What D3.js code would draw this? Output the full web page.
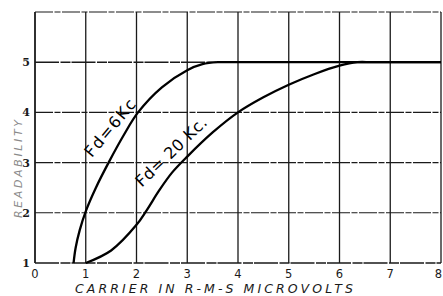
<!DOCTYPE html>
<html>
<head>
<meta charset="utf-8">
<script src="https://cdn.jsdelivr.net/npm/d3@7"></script>
<style>
  body { margin: 0; background: #fff; }
  svg { display: block; }
</style>
</head>
<body>
<div id="chart"></div>
<script>
// values
const xTicks = [0, 1, 2, 3, 4, 5, 6, 7, 8];
const yTicks = [1, 2, 3, 4, 5];

// Fd = 6 Kc curve
const curve6X = [0.76, 0.8, 0.88, 1.0, 1.2, 1.45, 1.75, 2.03, 2.5, 3.0, 3.3, 3.6, 3.9, 8];
const curve6Y = [1.0, 1.3, 1.65, 2.03, 2.5, 3.0, 3.55, 4.0, 4.5, 4.84, 4.96, 5.0, 5.0, 5.0];

// Fd = 20 Kc curve
const curve20X = [1.0, 1.5, 2.0, 2.2, 2.45, 2.7, 3.0, 3.5, 4.0, 4.5, 5.0, 5.5, 6.0, 6.35, 6.65, 8];
const curve20Y = [1.0, 1.25, 1.76, 2.05, 2.45, 2.8, 3.12, 3.6, 4.0, 4.3, 4.55, 4.76, 4.93, 5.0, 5.0, 5.0];

const W = 443, H = 296;
const margin = { top: 12, right: 2, bottom: 33, left: 35 };

const svg = d3.select("#chart").append("svg")
    .attr("width", W)
    .attr("height", H);

const x = d3.scaleLinear()
    .domain([0, 8])
    .range([margin.left, W - margin.right]);

const y = d3.scaleLinear()
    .domain([1, 6])
    .range([H - margin.bottom, margin.top]);

const ink = "#1a1a1a";

// horizontal grid (looks broken in the scan)
svg.append("g")
    .selectAll("line")
    .data([2, 3, 4, 6])
    .join("line")
    .attr("x1", x(0))
    .attr("x2", x(8))
    .attr("y1", d => y(d))
    .attr("y2", d => y(d))
    .attr("stroke", ink)
    .attr("stroke-width", 1.1)
    .attr("stroke-dasharray", "18,1.5,6,1.5");

// y = 5 and bottom line look heavier
svg.append("g")
    .selectAll("line")
    .data([1, 5])
    .join("line")
    .attr("x1", x(0))
    .attr("x2", x(8))
    .attr("y1", d => y(d))
    .attr("y2", d => y(d))
    .attr("stroke", ink)
    .attr("stroke-width", 1.4)
    .attr("stroke-dasharray", "24,1.5,10,1");

// vertical grid
svg.append("g")
    .selectAll("line")
    .data(xTicks)
    .join("line")
    .attr("x1", d => x(d))
    .attr("x2", d => x(d))
    .attr("y1", y(6))
    .attr("y2", y(1))
    .attr("stroke", ink)
    .attr("stroke-width", d => d === 0 ? 1.8 : 1.3);

// curves
const line = d3.line()
    .x(d => x(d[0]))
    .y(d => y(d[1]))
    .curve(d3.curveCatmullRom.alpha(0.5));

const series = [
    d3.zip(curve6X, curve6Y),
    d3.zip(curve20X, curve20Y)
];

svg.append("g")
    .selectAll("path")
    .data(series)
    .join("path")
    .attr("d", line)
    .attr("fill", "none")
    .attr("stroke", "#000")
    .attr("stroke-width", 2.3)
    .attr("stroke-linejoin", "round");

// curve labels
svg.append("text")
    .attr("transform", `translate(${x(1.57)},${y(3.63)}) rotate(-50)`)
    .attr("text-anchor", "middle")
    .attr("font-family", "DejaVu Sans")
    .attr("font-size", 16)
    .attr("letter-spacing", 1.5)
    .attr("fill", "#000")
    .text("Fd=6Kc");

svg.append("text")
    .attr("transform", `translate(${x(2.76)},${y(3.14)}) rotate(-44)`)
    .attr("text-anchor", "middle")
    .attr("font-family", "DejaVu Sans")
    .attr("font-size", 16)
    .attr("letter-spacing", 0.5)
    .attr("fill", "#000")
    .text("Fd= 20 Kc.");

// tick labels
svg.append("g")
    .selectAll("text")
    .data(yTicks)
    .join("text")
    .attr("x", x(0) - 5)
    .attr("y", d => y(d) + 4)
    .attr("text-anchor", "end")
    .attr("font-family", "DejaVu Serif")
    .attr("font-weight", "bold")
    .attr("font-size", 11)
    .attr("fill", ink)
    .text(d => d);

svg.append("g")
    .selectAll("text")
    .data(xTicks)
    .join("text")
    .attr("x", d => d === 8 ? W - 1 : x(d))
    .attr("y", y(1) + 15)
    .attr("text-anchor", d => d === 8 ? "end" : "middle")
    .attr("font-family", "DejaVu Sans")
    .attr("font-size", 11.5)
    .attr("fill", ink)
    .text(d => d);

// axis titles
svg.append("text")
    .attr("x", 214)
    .attr("y", 293)
    .attr("text-anchor", "middle")
    .attr("font-family", "DejaVu Sans")
    .attr("font-style", "italic")
    .attr("font-size", 12.5)
    .attr("textLength", 278)
    .attr("lengthAdjust", "spacing")
    .attr("fill", ink)
    .text("CARRIER IN R-M-S MICROVOLTS");

svg.append("text")
    .attr("transform", "translate(22,169) rotate(-90)")
    .attr("text-anchor", "middle")
    .attr("font-family", "DejaVu Sans")
    .attr("font-style", "italic")
    .attr("font-size", 11)
    .attr("textLength", 98)
    .attr("lengthAdjust", "spacing")
    .attr("fill", "#8a8a8a")
    .text("READABILITY");
</script>
</body>
</html>
